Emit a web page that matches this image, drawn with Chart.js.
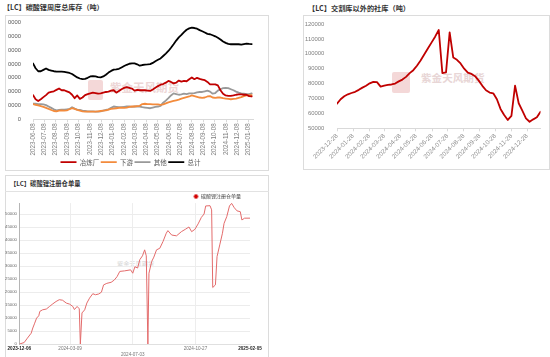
<!DOCTYPE html>
<html><head><meta charset="utf-8">
<script src="https://cdn.jsdelivr.net/npm/chart.js@4.4.1/dist/chart.umd.min.js"></script>
<style>
html,body{margin:0;padding:0;background:#fff;}
body{width:550px;height:357px;overflow:hidden;position:relative;font-family:"Noto Sans CJK SC","Liberation Sans",sans-serif;}
.frame{position:absolute;border:1px solid #dcdcdc;box-sizing:border-box;}
.title{position:absolute;font-weight:700;color:#333;line-height:1;white-space:nowrap;}
.wm{position:absolute;white-space:nowrap;line-height:1;font-weight:700;}
canvas{position:absolute;}
</style></head><body>
<div class="title" style="left:3px;top:3.5px;font-size:7.1px">【LC】碳酸锂周度总库存（吨）</div>
<div class="frame" style="left:5px;top:15px;width:264px;height:156px"></div>
<div class="title" style="left:308px;top:4.5px;font-size:7.2px">【LC】交割库以外的社库（吨）</div>
<div class="frame" style="left:303px;top:15px;width:247px;height:155px"></div>
<div class="frame" style="left:5px;top:175px;width:264px;height:190px"></div>
<div style="position:absolute;left:5px;top:191px;width:264px;height:1px;background:#e2e2e2"></div>
<div class="title" style="left:10px;top:180.5px;font-size:6.3px">【LC】碳酸锂注册仓单量</div>

<div class="wm" style="left:88px;top:80px;width:15px;height:20px;background:#f4d8d8;border-radius:2px"></div>
<div class="wm" style="left:110px;top:82px;font-size:11.5px;color:#edd6d6">紫金天风期货</div>
<div class="wm" style="left:392px;top:72px;width:18px;height:21px;background:#f4d8d8;border-radius:2px"></div>
<div class="wm" style="left:421px;top:72.5px;font-size:10.6px;color:#e8d6d6">紫金天风期货</div>
<div class="wm" style="left:117px;top:261px;font-size:6.2px;color:#d6d6d6;font-weight:400">紫金天风期货</div>

<canvas id="c1" width="260" height="155" style="left:8px;top:15px"></canvas>
<canvas id="c2" width="246" height="154" style="left:303px;top:15px"></canvas>
<canvas id="c3" width="268" height="173" style="left:0px;top:185.2px"></canvas>
<script>
// ---------- Chart 1: weekly total inventory (weeks from 2023-06-08) ----------
const tick1 = ['2023-06-08','2023-07-08','2023-08-08','2023-09-08','2023-10-08','2023-11-08','2023-12-08',
  '2024-01-08','2024-02-08','2024-03-08','2024-04-08','2024-05-08','2024-06-08','2024-07-08','2024-08-08',
  '2024-09-08','2024-10-08','2024-11-08','2024-12-08','2025-01-08'];
const smelter = [35000,29000,26500,29000,32000,35000,38500,39500,40500,42500,
  44500,42000,42000,40500,39000,35500,30500,34500,29500,31500,
  35000,36500,37500,38500,38000,37000,37500,38500,39500,40000,
  41500,42000,38500,41000,43500,45500,46500,45500,44500,41500,
  42500,42000,42000,42000,41500,41000,43000,45500,48000,50000,
  51000,53000,55500,54000,52000,53000,56000,54500,55500,55000,
  58000,60500,58000,60000,58500,57500,56500,54000,50500,50500,
  50500,49000,42000,37000,34500,34000,34000,34500,35500,36000,
  36000,35500,35500,33500,33000];
const downstream = [22000,21000,20000,19000,18000,16500,15000,13500,12000,11500,
  12500,13000,12500,13000,14500,16000,15000,13500,12500,11500,
  11000,11000,11000,11000,11000,11500,12000,12500,13000,14000,
  15000,15500,16000,16500,17000,16500,17000,18000,18500,18500,
  19000,19500,22000,22500,22000,22000,21500,21500,21500,21000,
  21500,23000,24500,25500,26500,27500,28500,30000,31000,32000,
  33000,34500,33500,32500,31500,31000,31500,33000,33500,31500,
  31000,31500,31500,30500,30000,29500,29000,29500,30000,31000,
  32000,33500,34500,35000,35000];
const other = [22500,22500,22000,22000,21500,20500,18500,16500,14500,13000,
  13500,14000,14000,14500,15000,17500,15500,14000,13500,12500,
  12000,11500,11500,11500,11000,11000,11500,12500,13500,14500,
  16500,18500,18000,17500,17500,18000,18500,18500,18000,18500,
  18500,18500,17500,17000,16500,16000,17000,18000,18500,19500,
  24000,27000,30500,34500,37500,36500,35500,36000,37000,36500,
  37500,37500,38000,39000,39500,39500,40500,41500,40000,37000,
  38000,41500,43500,45000,45500,45000,43500,42000,40000,38500,
  37500,37000,36500,36500,37500];
const total = [80800,73800,69500,69500,71500,73500,71500,70500,69500,69000,
  68800,68800,68500,67800,67000,65500,63000,60500,59000,58000,
  58500,60000,62000,62500,62000,61000,60700,62000,64500,67500,
  70000,71800,72200,73000,75000,77000,78800,80300,80800,80800,
  79500,77500,78500,79000,79300,79700,81500,84000,86000,88000,
  91500,95000,98800,103500,108500,113800,118500,122000,126000,129500,
  131500,132500,132000,131000,129000,127300,125500,123500,123000,121500,
  120000,118000,115500,112500,110500,109000,108500,108500,108500,108500,
  108000,108800,109500,109000,108800];
const yTick1 = [0,20000,40000,60000,80000,100000,120000,140000];

// ---------- Chart 2: social stock outside delivery warehouses (weeks from 2023-12-28) ----------
const tick2 = ['2023-12-28','2024-01-28','2024-02-28','2024-03-28','2024-04-28','2024-05-28','2024-06-28',
  '2024-07-28','2024-08-28','2024-09-28','2024-10-28','2024-11-28','2024-12-28'];
const socialStock = [66500,69500,71500,72800,73700,74500,75800,77300,78600,80200,
  81200,81000,78000,78700,79200,79400,80000,81500,82700,84500,
  87000,89000,92000,95500,99500,103500,107500,111500,116000,87000,
  87500,114400,97500,96000,93500,90000,87300,86500,85000,82000,
  78500,75500,74000,73500,69500,63000,58900,55600,58300,78600,
  66800,61800,56700,54400,56000,57400,61100];
const yTick2 = [50000,60000,70000,80000,90000,100000,110000,120000];

// ---------- Chart 3: registered warehouse receipts (days from 2023-12-06) ----------
const tick3 = ['2023-12-06','2024-03-09','2024-07-03','2024-10-27','2025-02-05'];
const day3 = [0,9,15,22,25,28,32,36,38,43,50,56,62,68,74,80,87,93,99,102,
  107,111,113,116,121,125,130,136,141,147,152,156,162,170,176,181,186,195,206,210,
  214,219,223,228,232,235,238,240,245,249,254,260,266,272,275,282,291,300,308,314,
  319,325,331,337,342,345,353,356,358,363,366,371,376,379,384,389,393,398,403,409,
  412,417,427];
const receipts = [0,600,2300,4200,6200,7800,10000,10900,12600,13200,13500,14500,15500,16400,17100,16900,15800,15400,14500,13300,
  14500,13600,0,12000,13200,15800,17700,19400,19000,19300,20000,22800,23400,23800,24700,26000,28000,28200,28600,27300,
  29800,29300,32500,34000,36300,34000,0,27300,31800,33500,36300,36900,39500,42700,43700,42000,41700,43300,44300,45100,
  43300,44200,46300,48800,50100,53200,53300,51700,21800,22800,33700,38200,42700,46500,49100,53200,54200,52500,51300,51000,
  47800,48500,48500];
const yTick3 = [0,5000,10000,15000,20000,25000,30000,35000,40000,45000,50000];

const NUM_FONT = '"Liberation Sans", Arial, sans-serif';
const CJK_FONT = '"Noto Sans CJK SC", sans-serif';
Chart.defaults.font.family = NUM_FONT;
const daysBetween = (a, b) => (Date.parse(b) - Date.parse(a)) / 86400000;
const pts = arr => arr.map((v, i) => ({x: i, y: v}));
const plain = v => String(v);

function lineDs(label, data, color) {
  return {label, data: pts(data), borderColor: color, backgroundColor: color, borderWidth: 1.8,
    pointRadius: 0, tension: 0, borderJoinStyle: 'round', borderCapStyle: 'round'};
}

new Chart(document.getElementById('c1'), {
  type: 'line',
  data: {datasets: [
    lineDs('冶炼厂', smelter, '#c00000'),
    lineDs('下游', downstream, '#f38b3c'),
    lineDs('其他', other, '#999999'),
    lineDs('总计', total, '#000000')
  ]},
  options: {
    responsive: false, animation: false,
    layout: {padding: {left: 0, right: 15, top: 5.3, bottom: 0}},
    plugins: {
      tooltip: {enabled: false},
      legend: {position: 'bottom', maxHeight: 12.7,
        labels: {usePointStyle: true, pointStyle: 'line', pointStyleWidth: 16, padding: 1.5,
          color: '#595959', font: {family: CJK_FONT, size: 6.5}}}
    },
    scales: {
      x: {type: 'linear', min: 0, max: 84.5,
        afterBuildTicks: s => { s.ticks = tick1.map(t => ({value: daysBetween(tick1[0], t) / 7})); },
        afterFit: s => { s.height = 38; },
        ticks: {autoSkip: false, minRotation: 90, maxRotation: 90, padding: 1, color: '#7f7f7f',
          font: {size: 6.3}, callback: (v, i) => tick1[i]},
        grid: {drawOnChartArea: false, color: '#d9d9d9', tickLength: 3},
        border: {color: '#d9d9d9'}},
      y: {min: 0, max: 140000,
        afterBuildTicks: s => { s.ticks = yTick1.map(v => ({value: v})); },
        afterFit: s => { s.width = 25; },
        ticks: {padding: 4, color: '#595959', font: {size: 5.8}, callback: plain},
        grid: {display: false}, border: {display: false}}
    }
  }
});

new Chart(document.getElementById('c2'), {
  type: 'line',
  data: {datasets: [{label: '社库', data: pts(socialStock), borderColor: '#c00000', borderWidth: 1.8,
    pointRadius: 0, tension: 0, borderJoinStyle: 'round', borderCapStyle: 'round'}]},
  options: {
    responsive: false, animation: false,
    layout: {padding: {left: 0, right: 8.5, top: 9, bottom: 0}},
    plugins: {tooltip: {enabled: false}, legend: {display: false}},
    scales: {
      x: {type: 'linear', min: 0, max: 56,
        afterBuildTicks: s => { s.ticks = tick2.map(t => ({value: daysBetween(tick2[0], t) / 7})); },
        afterFit: s => { s.height = 40.7; },
        ticks: {autoSkip: false, minRotation: 45, maxRotation: 45, padding: 1, color: '#8c8c8c',
          font: {size: 6.3}, callback: (v, i) => tick2[i]},
        grid: {drawOnChartArea: false, color: '#d9d9d9', tickLength: 3},
        border: {color: '#d9d9d9'}},
      y: {min: 50000, max: 120000,
        afterBuildTicks: s => { s.ticks = yTick2.map(v => ({value: v})); },
        ticks: {padding: 4.7, color: '#7f7f7f', font: {size: 5.9}, callback: plain},
        afterFit: s => { s.width = 34; },
        grid: {display: false}, border: {display: false}}
    }
  }
});

new Chart(document.getElementById('c3'), {
  type: 'line',
  data: {datasets: [{label: '碳酸锂注册仓单量', data: day3.map((d, i) => ({x: d, y: receipts[i]})),
    borderColor: '#e36b6b', backgroundColor: '#d40000', borderWidth: 1, pointRadius: 0, tension: 0}]},
  options: {
    responsive: false, animation: false,
    layout: {padding: {left: 0, right: 18, top: 0, bottom: 0}},
    plugins: {
      tooltip: {enabled: false},
      legend: {position: 'top', align: 'end', maxHeight: 18.1,
        labels: {usePointStyle: true, pointStyle: 'circle', boxHeight: 3, padding: 9,
          color: '#444', font: {family: CJK_FONT, size: 5}}}
    },
    scales: {
      x: {type: 'linear', min: 0, max: 427,
        afterBuildTicks: s => { s.ticks = tick3.map(t => ({value: daysBetween(tick3[0], t)})); },
        afterFit: s => { s.height = 13.9; },
        ticks: {autoSkip: false, maxRotation: 0, minRotation: 0, padding: 2,
          color: c => (c.index === 0 || c.index === tick3.length - 1) ? '#222' : '#777',
          font: c => ({family: NUM_FONT, size: 4.6, weight: (c.index === 0 || c.index === tick3.length - 1) ? 'bold' : 'normal'}),
          callback: (v, i) => i === 2 ? ['', tick3[i]] : tick3[i]},
        grid: {drawTicks: false, color: c => (c.index === 0 || c.index === tick3.length - 1) ? 'rgba(0,0,0,0)' : '#ededed'},
        border: {color: '#e0e0e0'}},
      y: {min: 0, max: 54300,
        afterBuildTicks: s => { s.ticks = yTick3.map(v => ({value: v})); },
        afterFit: s => { s.width = 19.3; },
        ticks: {padding: 2.3, color: '#666', font: {size: 4.3}, callback: plain},
        grid: {drawTicks: false, color: '#ececec'},
        border: {color: '#b5b5b5'}}
    }
  }
});
</script>
</body></html>
